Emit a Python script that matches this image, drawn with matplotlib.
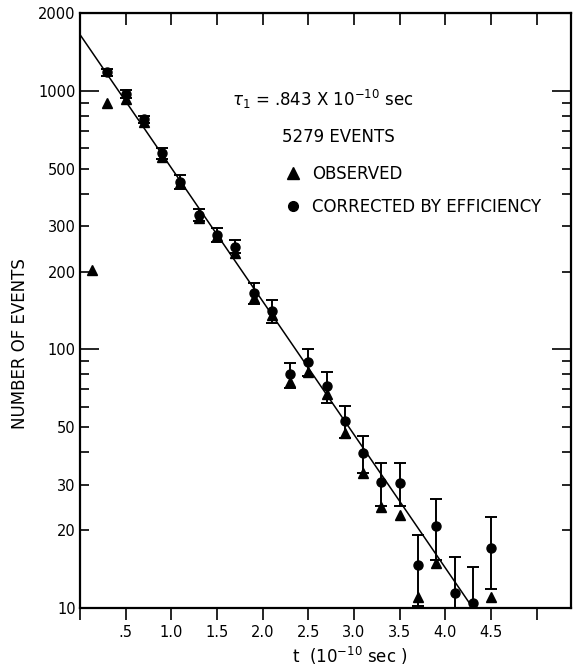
import numpy as np
import matplotlib
matplotlib.use("Agg")
import matplotlib.pyplot as plt
from matplotlib.lines import Line2D

# time bins (units of 1e-10 sec)
t = [0.13, 0.3, 0.5, 0.7, 0.9, 1.1, 1.3, 1.5, 1.7, 1.9, 2.1, 2.3,
     2.5, 2.7, 2.9, 3.1, 3.3, 3.5, 3.7, 3.9, 4.1, 4.3, 4.5]
observed = [203, 900, 930, 760, 555, 440, 322, 274, 236, 158, 136, 75,
            82, 67, 47.5, 33.3, 24.6, 22.9, 11.0, 14.9, np.nan, np.nan, 11.0]
corrected = [np.nan, 1180, 975, 775, 575, 445, 331, 277, 250, 165, 141, 80,
             89.5, 72, 53, 39.8, 30.7, 30.5, 14.7, 20.8, 11.4, 10.5, 17.1]
corr_err = [np.nan, 40, 33, 25, 28, 27, 18, 17, 14, 15, 14, 9,
            10.5, 10, 7.5, 6.5, 5.8, 5.8, 4.5, 5.5, 4.3, 3.9, 5.3]

# fitted lifetime line, tau = .843e-10 sec
fit_t = [0.0, 4.3]
fit_n = [1650, 10]

x_ticks = [0, 0.5, 1.0, 1.5, 2.0, 2.5, 3.0, 3.5, 4.0, 4.5, 5.0]
x_labels = ["", ".5", "1.0", "1.5", "2.0", "2.5", "3.0", "3.5", "4.0", "4.5", ""]
y_major = [10, 100, 1000]
y_minor = [20, 30, 40, 50, 60, 70, 80, 90, 200, 300, 400, 500, 600, 700, 800, 900, 2000]
y_minor_labels = ["20", "30", "", "50", "", "", "", "", "200", "300", "", "500",
                  "", "", "", "", "2000"]

plt.rcParams['font.family'] = ['DejaVu Sans']

fig = plt.figure(figsize=(5.73, 6.71), dpi=100)
ax = fig.add_axes([80 / 573, 1 - 608 / 671, 491 / 573, 595 / 671])

ax.plot(fit_t, fit_n, color='black', lw=1.1, zorder=1)
ax.errorbar(t, corrected, yerr=corr_err, fmt='o', color='black', ms=6.5,
            elinewidth=1.4, capsize=4, capthick=1.4, zorder=3)
ax.plot(t, observed, '^', color='black', ms=7.5, zorder=4)

ax.set_yscale('log')
ax.set_xlim(0, 5.375)
ax.set_ylim(10, 2000)

for s in ax.spines.values():
    s.set_linewidth(1.6)

ax.set_xticks(x_ticks, labels=x_labels)
ax.tick_params(axis='x', direction='out', length=8.5, width=1.2, pad=4,
               labelsize=10.5)

sec = ax.secondary_xaxis('top')
sec.set_xticks(x_ticks[1:])
sec.tick_params(direction='in', length=8.5, width=1.2, labeltop=False)

ax.set_yticks(y_major, labels=["10", "100", "1000"])
ax.set_yticks(y_minor, labels=y_minor_labels, minor=True)
ax.tick_params(axis='y', which='both', direction='in', left=True, right=True,
               labelsize=10.5, pad=3)
ax.tick_params(axis='y', which='major', length=14, width=1.2)
ax.tick_params(axis='y', which='minor', length=6.5, width=1.2)

ax.set_ylabel("NUMBER OF EVENTS", fontsize=12, y=0.444, labelpad=7)
ax.set_xlabel(r"t  (10$^{-10}$ sec )", fontsize=12, x=0.55, labelpad=3)

ax.text(0.31, 0.854, r"$\tau_{\rm 1}$ = .843 X 10$^{-10}$ sec", transform=ax.transAxes,
        fontsize=12, va='center', ha='left')
ax.text(0.411, 0.7916, "5279 EVENTS", transform=ax.transAxes,
        fontsize=12, va='center', ha='left')

handles = [Line2D([], [], ls='none', marker='^', color='black', ms=8),
           Line2D([], [], ls='none', marker='o', color='black', ms=7)]
ax.legend(handles, ["OBSERVED", "CORRECTED BY EFFICIENCY"], loc='upper left',
          bbox_to_anchor=(0.4175, 0.7445), frameon=False, fontsize=12,
          handlelength=1.0, handletextpad=0.6, labelspacing=0.9,
          borderpad=0, borderaxespad=0)

fig.savefig("out.png", dpi=100)
